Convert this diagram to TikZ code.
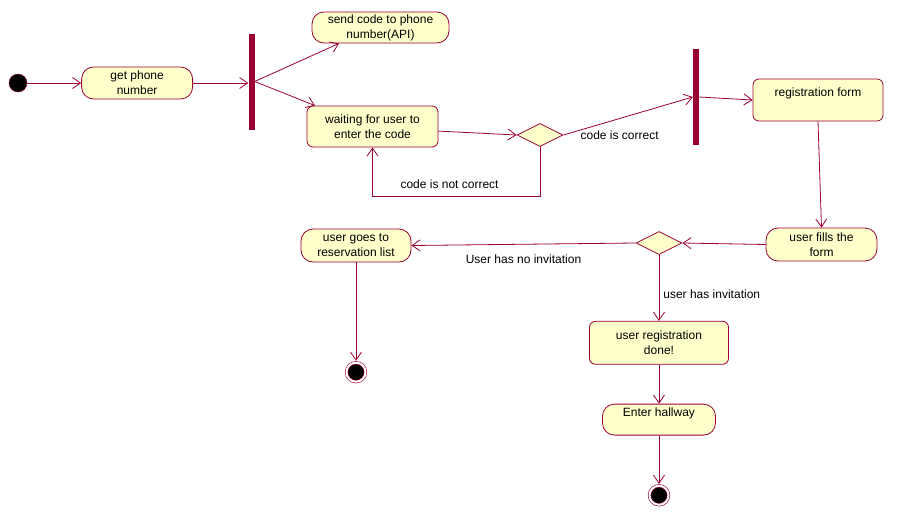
\documentclass[tikz,border=0pt]{standalone}
\usepackage{fontspec}
\setmainfont{Liberation Sans}
\usepackage{tikz}
\usepackage{xcolor}
\usetikzlibrary{positioning, shapes.geometric, arrows.meta}

\definecolor{umlred}{RGB}{153,0,51}
\definecolor{umlfill}{RGB}{255,255,204}

\begin{document}
\begin{tikzpicture}
[
x=1pt, y=-1pt,
font=\fontsize{12}{15}\selectfont,
>={Straight Barb[length=8pt, width=11pt]},
act-a/.style={rectangle, rounded corners=12pt, draw=umlred, fill=umlfill, line width=0.8pt, align=center, inner sep=2pt},
act-b/.style={rectangle, rounded corners=6pt, draw=umlred, fill=umlfill, line width=0.8pt, align=center, inner sep=2pt},
bar-a/.style={rectangle, fill=umlred, minimum width=6pt, minimum height=96pt, inner sep=0pt},
dec-a/.style={diamond, draw=umlred, fill=umlfill, line width=0.8pt, minimum width=46pt, minimum height=23pt, inner sep=0pt},
start-a/.style={circle, draw=umlred, fill=black, minimum size=18pt, inner sep=0pt},
end-a/.style={circle, draw=umlred, fill=black, line width=0.6pt, double=white, double distance=2pt, minimum size=19pt, inner sep=0pt},
text-a/.style={inner sep=1pt},
flow-a/.style={->, draw=umlred, line width=0.8pt}
]

\useasboundingbox (0,0) rectangle (922,531);

\node (start)      [start-a]                        at (18,83)      {};
\node (get-phone)  [act-a, right = 54pt of start, minimum width=111pt, minimum height=32pt] {get phone\\number};
\node (fork-1)     [bar-a]                          at (251.5,81.5) {};
\node (send-code)  [act-a, minimum width=137pt, minimum height=31pt] at (380.5,27.5) {send code to phone\\number(API)};
\node (waiting)    [act-b, minimum width=131pt, minimum height=41pt] at (372.5,126.5) {waiting for user to\\enter the code};
\node (dec-1)      [dec-a]                          at (540,135)    {};
\node (lbl-ok)     [text-a, right = 16pt of dec-1.east]             {code is correct};
\node (fork-2)     [bar-a]                          at (696,97)     {};
\node (reg-form)   [act-b, minimum width=130pt, minimum height=42pt] at (818,100) {registration form\\~};
\node (user-fills) [act-a, minimum width=111pt, minimum height=33pt] at (821.5,244.5) {user fills the\\form};
\node (dec-2)      [dec-a]                          at (659,243)    {};
\node (user-goes)  [act-a, minimum width=110pt, minimum height=33pt] at (356,245.5) {user goes to\\reservation list};
\node (end-1)      [end-a, below = 100pt of user-goes]              {};
\node (reg-done)   [act-b, below = 66pt of dec-2, minimum width=139pt, minimum height=43pt] {user registration\\done!};
\node (hallway)    [act-a, below = 39pt of reg-done, minimum width=113pt, minimum height=31pt] {Enter hallway\\~};
\node (end-2)      [end-a, below = 50pt of hallway]                 {};

\draw [flow-a] (start) -- (get-phone);
\draw [flow-a] (get-phone.east) -- (get-phone.east -| fork-1.west);
\draw [flow-a] (fork-1.east) -- (send-code.-159);
\draw [flow-a] (fork-1.east) -- (waiting.160);
\draw [flow-a] (waiting.-4) -- (dec-1.west);
\draw [flow-a] (dec-1.south) -- ++(0,49) -| node [text-a, above=6pt, pos=0.27] {code is not correct} (waiting.south);
\draw [flow-a] (dec-1.east) -- (fork-2.west);
\draw [flow-a] (fork-2.east) -- (reg-form.west);
\draw [flow-a] (reg-form.south) -- (user-fills.north);
\draw [flow-a] (user-fills.west) -- (dec-2.east);
\draw [flow-a] (dec-2.west) -- node [text-a, below=9pt] {User has no invitation} (user-goes.east);
\draw [flow-a] (dec-2.south) -- node [text-a, right=3pt, pos=0.59] {user has invitation} (reg-done.north);
\draw [flow-a] (reg-done) -- (hallway);
\draw [flow-a, shorten >=1.6pt] (hallway) -- (end-2);
\draw [flow-a, shorten >=1.6pt] (user-goes) -- (end-1);

\end{tikzpicture}
\end{document}
